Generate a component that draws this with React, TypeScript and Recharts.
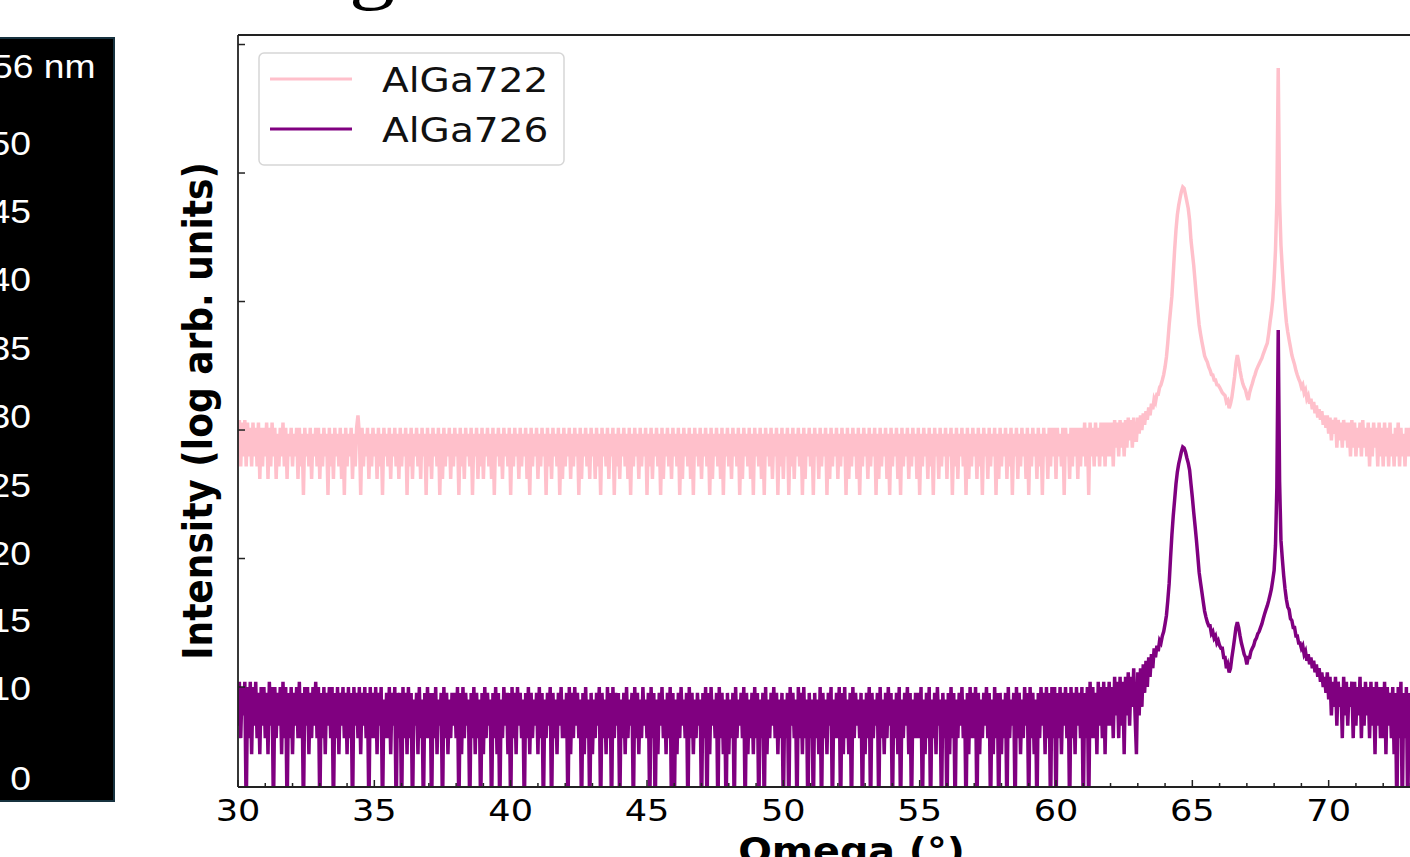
import { LineChart, Line, XAxis, YAxis, Legend } from 'recharts';

// omega grid: first sample and step (deg)
const omegaStart = 29.95;
const omegaStep = 0.05;

// AlGa722 (pink, offset trace) - one row per degree, starting 29.95
const alga722 = [
  1144, 624, 1197, 520, 1144, 624, 1197, 520, 1144, 624, 1040, 520, 1144, 624, 1040, 520, 1144, 416, 1040, 520,
  1040, 624, 1144, 416, 1040, 520, 1144, 624, 1040, 416, 936, 520, 1040, 624, 1144, 520, 1040, 416, 936, 624,
  1040, 520, 936, 624, 1040, 416, 1040, 520, 936, 312, 1040, 624, 936, 520, 1040, 416, 936, 624, 1040, 520,
  1040, 416, 936, 520, 1040, 624, 936, 312, 1040, 520, 936, 416, 1040, 624, 936, 520, 1040, 416, 936, 312,
  1040, 520, 936, 624, 1040, 416, 936, 520, 1040, 1300, 936, 312, 1040, 520, 936, 624, 1040, 416, 936, 520,
  1040, 624, 936, 416, 1040, 520, 936, 312, 1040, 624, 936, 520, 1040, 416, 936, 624, 1040, 520, 936, 416,
  1040, 520, 936, 624, 1040, 312, 936, 520, 1040, 416, 936, 624, 1040, 520, 936, 416, 1040, 624, 936, 312,
  1040, 520, 936, 416, 1040, 624, 936, 520, 1040, 312, 936, 416, 1040, 520, 936, 624, 1040, 416, 936, 520,
  1040, 624, 936, 312, 1040, 520, 936, 416, 1040, 624, 936, 520, 1040, 312, 936, 624, 1040, 416, 936, 520,
  1040, 416, 936, 624, 1040, 520, 936, 416, 1040, 312, 936, 624, 1040, 520, 936, 416, 1040, 624, 936, 520,
  1040, 312, 936, 520, 1040, 624, 936, 416, 1040, 520, 936, 624, 1040, 416, 936, 312, 1040, 520, 936, 624,
  1040, 416, 936, 520, 1040, 624, 936, 312, 1040, 520, 936, 416, 1040, 624, 936, 520, 1040, 312, 936, 416,
  1040, 520, 936, 624, 1040, 416, 936, 520, 1040, 624, 936, 312, 1040, 416, 936, 624, 1040, 520, 936, 416,
  1040, 624, 936, 416, 1040, 520, 936, 312, 1040, 624, 936, 520, 1040, 416, 936, 624, 1040, 312, 936, 520,
  1040, 416, 936, 624, 1040, 520, 936, 416, 1040, 312, 936, 520, 1040, 624, 936, 416, 1040, 520, 936, 624,
  1040, 312, 936, 520, 1040, 416, 936, 624, 1040, 520, 936, 312, 1040, 416, 936, 624, 1040, 520, 936, 416,
  1040, 624, 936, 520, 1040, 312, 936, 416, 1040, 624, 936, 520, 1040, 416, 936, 312, 1040, 624, 936, 520,
  1040, 416, 936, 624, 1040, 520, 936, 312, 1040, 416, 936, 624, 1040, 520, 936, 416, 1040, 312, 936, 624,
  1040, 520, 936, 416, 1040, 624, 936, 520, 1040, 312, 936, 416, 1040, 624, 936, 520, 1040, 416, 936, 312,
  1040, 624, 936, 520, 1040, 416, 936, 312, 1040, 624, 936, 520, 1040, 416, 936, 624, 1040, 312, 936, 520,
  1040, 416, 936, 624, 1040, 312, 936, 520, 1040, 416, 936, 624, 1040, 520, 936, 312, 1040, 416, 936, 624,
  1040, 520, 936, 312, 1040, 624, 936, 416, 1040, 520, 936, 624, 1040, 312, 936, 416, 1040, 520, 936, 624,
  1040, 416, 936, 520, 1040, 624, 936, 312, 1040, 416, 936, 520, 1040, 624, 936, 416, 1040, 312, 936, 520,
  1040, 624, 936, 416, 1040, 520, 936, 624, 1040, 312, 936, 416, 1040, 520, 936, 624, 1040, 416, 936, 312,
  1040, 520, 936, 624, 1040, 416, 936, 312, 1040, 520, 936, 624, 1040, 416, 936, 520, 1040, 624, 936, 416,
  1040, 312, 936, 520, 1040, 624, 936, 416, 1040, 520, 936, 312, 1040, 624, 936, 416, 1040, 520, 936, 624,
  1040, 416, 936, 624, 1040, 312, 936, 520, 1040, 416, 936, 624, 1040, 520, 936, 312, 1040, 416, 936, 520,
  1040, 624, 936, 416, 1040, 520, 936, 312, 1040, 624, 936, 416, 1040, 520, 936, 624, 1040, 312, 936, 416,
  1040, 520, 936, 624, 1040, 416, 936, 520, 1040, 312, 936, 624, 1040, 416, 936, 520, 1040, 624, 936, 416,
  1040, 312, 936, 520, 1040, 624, 936, 416, 1040, 520, 936, 312, 1040, 624, 936, 416, 1040, 520, 1040, 624,
  1040, 416, 1040, 624, 936, 520, 1040, 312, 1040, 624, 936, 416, 1040, 520, 1040, 624, 1040, 416, 1040, 520,
  1040, 624, 1144, 520, 1040, 312, 1144, 624, 1040, 520, 1144, 624, 1040, 520, 1144, 624, 1144, 520, 1144, 624,
  1144, 624, 1144, 520, 1197, 728, 1144, 624, 1197, 728, 1144, 624, 1197, 728, 1250, 832, 1197, 728, 1250, 832,
  832, 1250, 936, 1300, 1000, 1350, 1100, 1400, 1200, 1500, 1300, 1600, 1450, 1750, 1650, 1900, 1900, 2150, 2250, 2450,
  2700, 3100, 3700, 4800, 6560, 8500, 11000, 16500, 25100, 36000, 47100, 56000, 63900, 72000, 77800, 76000, 67500, 60000, 53000, 43000,
  30100, 24000, 19200, 14500, 10840, 8400, 6560, 5600, 4870, 4300, 3780, 3550, 3380, 3100, 2930, 2700, 2680, 2450, 2450, 2250,
  2240, 2150, 2050, 1950, 1900, 1850, 1650, 1700, 1480, 1600, 1800, 2150, 2600, 3300, 3830, 3400, 2900, 2550, 2300, 2150,
  2050, 1850, 1713, 1950, 2130, 2300, 2520, 2700, 2930, 3100, 3270, 3450, 3620, 3900, 4170, 4450, 4750, 5600, 6900, 8200,
  10270, 15000, 25100, 60000, 656000, 60000, 27500, 18000, 12280, 9000, 6900, 5800, 5020, 4400, 3830, 3500, 3230, 2900, 2680, 2500,
  2360, 2150, 2250, 1950, 2050, 1750, 1850, 1600, 1750, 1450, 1650, 1350, 1550, 1250, 1450, 1200, 1400, 1100, 1300, 1040,
  1300, 936, 1250, 832, 1197, 936, 1250, 728, 1197, 832, 1144, 728, 1197, 832, 1144, 728, 1144, 624, 1197, 728,
  1144, 624, 1040, 728, 1144, 624, 1197, 728, 1040, 624, 1144, 520, 1040, 624, 1144, 728, 1040, 520, 1144, 624,
  1040, 520, 1144, 624, 1040, 520, 1144, 624, 936, 520, 1040, 624, 1144, 520, 1040, 624, 936, 520, 1040, 624,
  1040, 624, 1144, 520, 1040, 624, 1040, 520, 1144, 624, 1040, 520, 1144, 624, 1040, 520, 1040, 624, 1144, 520,
];

// AlGa726 (purple) - counts, 1 = drop to the floor
const alga726 = [
  10, 5, 11, 4, 10, 6, 11, 1, 10, 4, 11, 3, 10, 5, 11, 4, 9, 3, 10, 5,
  10, 4, 9, 3, 11, 5, 10, 1, 10, 4, 9, 5, 10, 3, 11, 4, 10, 1, 9, 4,
  10, 3, 9, 5, 10, 4, 11, 4, 9, 1, 10, 5, 10, 3, 9, 4, 10, 5, 11, 4,
  10, 1, 9, 4, 10, 3, 9, 5, 10, 4, 10, 1, 9, 4, 10, 3, 9, 5, 10, 4,
  9, 3, 10, 4, 9, 1, 10, 5, 9, 4, 10, 3, 9, 5, 10, 4, 9, 1, 10, 4,
  9, 4, 10, 3, 9, 5, 10, 1, 8, 4, 9, 4, 10, 3, 9, 5, 10, 1, 9, 4,
  9, 1, 10, 4, 9, 3, 10, 4, 9, 1, 8, 5, 9, 3, 10, 4, 8, 1, 9, 4,
  10, 4, 9, 1, 9, 4, 10, 3, 8, 5, 9, 1, 10, 4, 9, 3, 8, 4, 9, 5,
  9, 4, 10, 1, 9, 3, 10, 4, 9, 5, 8, 1, 9, 4, 10, 3, 9, 4, 8, 1,
  9, 3, 10, 4, 9, 5, 8, 1, 9, 4, 10, 3, 9, 1, 8, 4, 10, 5, 9, 3,
  9, 1, 10, 4, 9, 3, 10, 5, 9, 4, 8, 1, 9, 4, 10, 3, 9, 4, 8, 5,
  9, 3, 10, 4, 9, 1, 8, 4, 9, 5, 10, 1, 9, 4, 8, 3, 9, 5, 10, 4,
  8, 4, 9, 1, 10, 3, 9, 4, 10, 5, 9, 4, 8, 1, 9, 3, 10, 4, 8, 1,
  9, 3, 8, 4, 9, 5, 10, 1, 9, 4, 8, 3, 10, 4, 9, 1, 10, 4, 9, 5,
  9, 1, 8, 4, 9, 3, 10, 4, 8, 5, 9, 1, 10, 4, 9, 3, 8, 4, 10, 5,
  8, 4, 9, 1, 10, 4, 9, 1, 8, 3, 9, 5, 10, 4, 8, 3, 9, 4, 10, 1,
  9, 1, 8, 3, 9, 4, 10, 5, 8, 4, 9, 1, 10, 4, 9, 3, 8, 4, 9, 5,
  8, 1, 9, 4, 10, 1, 9, 3, 10, 5, 8, 4, 9, 1, 10, 4, 9, 3, 8, 1,
  9, 3, 8, 4, 9, 1, 10, 4, 8, 5, 9, 4, 10, 1, 9, 3, 8, 4, 9, 3,
  10, 4, 9, 1, 8, 4, 9, 1, 10, 3, 8, 4, 9, 5, 10, 4, 9, 3, 8, 4,
  9, 1, 8, 4, 9, 1, 10, 5, 9, 4, 8, 1, 10, 4, 9, 3, 10, 4, 8, 1,
  9, 4, 8, 1, 9, 4, 8, 3, 10, 1, 9, 4, 8, 3, 9, 5, 10, 1, 8, 4,
  9, 4, 10, 1, 9, 3, 10, 4, 8, 3, 9, 1, 10, 4, 9, 5, 8, 4, 9, 1,
  8, 3, 9, 4, 10, 1, 9, 4, 8, 5, 9, 1, 10, 4, 8, 3, 9, 4, 10, 5,
  9, 1, 8, 4, 9, 3, 10, 1, 8, 4, 9, 5, 10, 3, 9, 1, 8, 4, 9, 4,
  9, 4, 10, 1, 8, 3, 9, 4, 10, 1, 8, 4, 9, 3, 10, 5, 8, 1, 9, 4,
  8, 1, 9, 3, 10, 4, 9, 1, 8, 4, 9, 5, 10, 4, 8, 1, 9, 3, 10, 4,
  9, 4, 10, 1, 9, 3, 8, 4, 9, 5, 10, 4, 9, 1, 8, 3, 10, 4, 9, 1,
  9, 3, 8, 4, 9, 1, 10, 4, 8, 5, 9, 1, 10, 4, 9, 3, 8, 4, 10, 5,
  9, 1, 10, 4, 9, 3, 8, 1, 9, 4, 10, 5, 9, 3, 10, 4, 9, 1, 10, 4,
  10, 1, 9, 4, 10, 3, 9, 5, 10, 4, 9, 1, 10, 4, 9, 3, 10, 5, 9, 4,
  10, 1, 9, 4, 10, 1, 11, 4, 10, 4, 9, 3, 11, 5, 10, 4, 11, 3, 10, 5,
  11, 5, 10, 4, 12, 6, 11, 4, 12, 5, 11, 3, 12, 6, 13, 5, 12, 7, 14, 6,
  3, 13, 6, 14, 7, 15, 9, 16, 10, 17, 12, 18, 14, 20, 17, 21, 19, 23, 22, 25,
  27, 31, 36, 47, 64, 100, 152, 215, 285, 380, 470, 545, 606, 680, 738, 725, 674, 606, 553, 488,
  380, 300, 230, 180, 139, 105, 78, 65, 55, 46, 39, 35, 32, 30, 30, 26, 27, 24, 25, 22,
  23, 21, 20, 20, 17, 17, 14, 15, 13, 14, 17, 20, 24, 29, 32, 29, 25, 22, 20, 18,
  17, 15, 17, 17, 19, 20, 21, 23, 24, 26, 27, 29, 31, 34, 37, 40, 43, 47, 52, 58,
  68, 81, 127, 360, 6000, 400, 139, 100, 74, 58, 48, 42, 40, 34, 33, 29, 29, 25, 25, 22,
  22, 20, 21, 18, 19, 16, 18, 15, 17, 14, 16, 13, 15, 12, 14, 11, 13, 10, 12, 9,
  13, 8, 12, 6, 11, 7, 12, 5, 11, 7, 10, 4, 12, 6, 11, 5, 10, 7, 11, 4,
  11, 5, 10, 6, 12, 4, 10, 5, 11, 6, 10, 4, 11, 5, 10, 3, 11, 5, 10, 4,
  10, 4, 11, 3, 10, 5, 9, 4, 10, 3, 9, 1, 10, 4, 11, 1, 9, 4, 10, 1,
  9, 4, 10, 3, 9, 1, 10, 4, 9, 5, 10, 3, 9, 1, 10, 4, 9, 3, 10, 4,
];

const seriesNames = ['AlGa722', 'AlGa726'];
const seriesColors = ['#ffc0cb', '#800080'];

const omegaTicks = [
  30, 31, 32, 33, 34, 35, 36, 37, 38, 39, 40, 41, 42, 43, 44, 45, 46, 47, 48, 49, 50,
  51, 52, 53, 54, 55, 56, 57, 58, 59, 60, 61, 62, 63, 64, 65, 66, 67, 68, 69, 70,
  71, 72, 73, 74, 75,
];
const intensityTicks = [10, 100, 1000, 10000, 100000, 1000000];

// neighbouring figure's height scale bar (cropped at left)
const scaleBarLabels = ['56 nm', '50', '45', '40', '35', '30', '25', '20', '15', '10', '0'];
const scaleBarY = [66, 143, 211, 279, 348, 416, 485, 553, 620, 688, 778];

const data = alga722.map((v, i) => ({
  omega: Number((omegaStart + i * omegaStep).toFixed(2)),
  [seriesNames[0]]: v,
  [seriesNames[1]]: alga726[i],
}));

const AXIS = '#222';
const SANS = 'DejaVu Sans';

const OmegaTick = (props: any) => {
  const { x, y, payload } = props;
  const major = payload.value % 5 === 0;
  return (
    <g>
      <line x1={x} x2={x} y1={y} y2={y - (major ? 7 : 4)} stroke={AXIS} strokeWidth={1.5} />
      {major && (
        <text
          transform={`translate(${x},${y + 34}) scale(1.17,1)`}
          textAnchor="middle"
          fontFamily={SANS}
          fontSize={30}
          fill="#000"
        >
          {payload.value}
        </text>
      )}
    </g>
  );
};

const IntensityTick = (props: any) => {
  const { x, y } = props;
  return <line x1={x} x2={x + 7} y1={y} y2={y} stroke={AXIS} strokeWidth={1.5} />;
};

const renderLegend = (props: any) => {
  const { payload } = props;
  return (
    <svg width={308} height={115} style={{ display: 'block' }}>
      <rect x={1} y={1} width={305} height={112} rx={5} fill="#fff" fillOpacity={0.8} stroke="#d6d6d6" strokeWidth={1.5} />
      {(payload || []).map((entry: any, i: number) => (
        <g key={entry.value}>
          <line x1={12} x2={94} y1={27 + 50 * i} y2={27 + 50 * i} stroke={entry.color} strokeWidth={3} />
          <text
            transform={`translate(124,${40 + 50 * i}) scale(1.15,1)`}
            fontFamily={SANS}
            fontSize={34}
            fill="#111"
          >
            {entry.value}
          </text>
        </g>
      ))}
    </svg>
  );
};

const App = () => {
  return (
    <div
      style={{
        position: 'fixed',
        left: 0,
        top: 0,
        width: 1410,
        height: 857,
        overflow: 'hidden',
        background: '#fff',
      }}
    >
      <div
        style={{
          position: 'absolute',
          left: -20,
          top: 37,
          width: 135,
          height: 765,
          boxSizing: 'border-box',
          background: '#000',
          border: '2.5px solid #17323f',
        }}
      />
      <svg width={140} height={857} style={{ position: 'absolute', left: 0, top: 0 }}>
        {scaleBarLabels.map((label, i) => (
          <text
            key={label}
            transform={`translate(${i === 0 ? -8 : 31},${scaleBarY[i] + 12}) scale(1.13,1)`}
            textAnchor={i === 0 ? 'start' : 'end'}
            fontFamily="Liberation Sans"
            fontSize={33}
            fill="#fff"
          >
            {label}
          </text>
        ))}
      </svg>
      <svg width={1410} height={40} style={{ position: 'absolute', left: 0, top: 0 }}>
        <text
          transform="translate(372,-6) scale(1.15,1)"
          textAnchor="middle"
          fontFamily="Liberation Serif"
          fontSize={80}
          fill="#000"
        >
          g
        </text>
      </svg>
      <div style={{ position: 'absolute', left: 0, top: 0 }}>
        <LineChart
          width={1485}
          height={857}
          data={data}
          margin={{ top: 34, right: 20, bottom: 69, left: 237 }}
        >
          <XAxis
            dataKey="omega"
            type="number"
            domain={[30, 75]}
            allowDataOverflow
            ticks={omegaTicks}
            interval={0}
            height={1}
            tickSize={0}
            tickMargin={0}
            tickLine={false}
            tick={OmegaTick}
            axisLine={{ stroke: AXIS, strokeWidth: 1.8 }}
            label={{
              content: (p: any) => (
                <text
                  transform={`translate(${p.viewBox.x + p.viewBox.width / 2},${p.viewBox.y + 76}) scale(1.1,1)`}
                  textAnchor="middle"
                  fontFamily={SANS}
                  fontWeight="bold"
                  fontSize={36}
                  fill="#000"
                >
                  Omega (°)
                </text>
              ),
            }}
          />
          <XAxis
            xAxisId="top"
            orientation="top"
            dataKey="omega"
            type="number"
            domain={[30, 75]}
            height={1}
            tick={false}
            tickLine={false}
            axisLine={{ stroke: AXIS, strokeWidth: 1.8 }}
          />
          <YAxis
            type="number"
            scale="log"
            domain={[1.667, 1186000]}
            allowDataOverflow
            ticks={intensityTicks}
            interval={0}
            width={1}
            tickSize={0}
            tickMargin={0}
            tickLine={false}
            tick={IntensityTick}
            axisLine={{ stroke: AXIS, strokeWidth: 1.8 }}
            label={{
              content: (p: any) => (
                <text
                  transform={`translate(${p.viewBox.x - 25},${p.viewBox.y + p.viewBox.height / 2}) scale(1.13,1) rotate(-90)`}
                  textAnchor="middle"
                  fontFamily={SANS}
                  fontWeight="bold"
                  fontSize={36}
                  fill="#000"
                >
                  Intensity (log arb. units)
                </text>
              ),
            }}
          />
          <Legend
            layout="vertical"
            align="center"
            verticalAlign="middle"
            content={renderLegend}
            wrapperStyle={{ left: 258, top: 52, width: 308, height: 115 }}
          />
          <Line
            type="linear"
            dataKey={seriesNames[0]}
            name={seriesNames[0]}
            stroke={seriesColors[0]}
            strokeWidth={3.5}
            dot={false}
            activeDot={false}
            legendType="line"
            isAnimationActive={false}
          />
          <Line
            type="linear"
            dataKey={seriesNames[1]}
            name={seriesNames[1]}
            stroke={seriesColors[1]}
            strokeWidth={3.5}
            dot={false}
            activeDot={false}
            legendType="line"
            isAnimationActive={false}
          />
        </LineChart>
      </div>
    </div>
  );
};

export default App;
